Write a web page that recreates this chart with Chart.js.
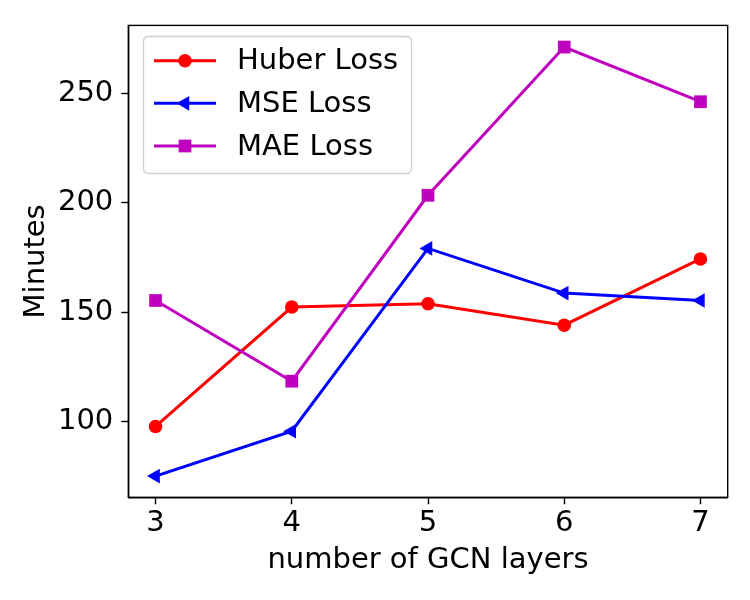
<!DOCTYPE html>
<html>
<head>
<meta charset="utf-8">
<script src="https://cdn.jsdelivr.net/npm/chart.js@4/dist/chart.umd.min.js"></script>
<style>
  html, body { margin: 0; padding: 0; background: #fff; }
  #wrap { width: 750px; height: 600px; }
</style>
</head>
<body>
<div id="wrap"><canvas id="c" width="750" height="600"></canvas></div>
<script>
const layers = [3, 4, 5, 6, 7];
const huberLoss = [97.7, 152.3, 153.8, 144.0, 174.3];
const mseLoss = [75.0, 95.5, 179.1, 158.7, 155.3];
const maeLoss = [155.3, 118.4, 203.4, 271.2, 246.2];
const xTicks = [3, 4, 5, 6, 7];
const yTicks = [100, 150, 200, 250];
const seriesNames = ['Huber Loss', 'MSE Loss', 'MAE Loss'];
const xTitle = 'number of GCN layers';
const yTitle = 'Minutes';

const FONT = '"DejaVu Sans", sans-serif';
const FS = 29;

function pts(vals) { return layers.map((x, i) => ({ x: x, y: vals[i] })); }

const datasets = [
  { label: seriesNames[0], data: pts(huberLoss), borderColor: '#ff0000', backgroundColor: '#ff0000',
    pointStyle: 'circle', pointRadius: 6.8, pointRotation: 0, order: 2 },
  { label: seriesNames[1], data: pts(mseLoss), borderColor: '#0000ff', backgroundColor: '#0000ff',
    pointStyle: 'triangle', pointRadius: 8.5, pointRotation: -90, order: 1 },
  { label: seriesNames[2], data: pts(maeLoss), borderColor: '#bf00bf', backgroundColor: '#bf00bf',
    pointStyle: 'rect', pointRadius: 9, pointRotation: 0, order: 0 }
].map(d => Object.assign(d, { borderWidth: 3, pointBorderWidth: 0, tension: 0, fill: false, clip: false }));

const frame = {
  id: 'frame',
  afterDraw(chart) {
    const ctx = chart.ctx, a = chart.chartArea;
    ctx.save();
    ctx.strokeStyle = '#000';
    ctx.lineWidth = 1.4;
    ctx.strokeRect(a.left, a.top, a.right - a.left, a.bottom - a.top);
    // legend
    const bx = 143.5, by = 36.5, bw = 268, bh = 137, r = 5;
    ctx.beginPath();
    ctx.moveTo(bx + r, by);
    ctx.lineTo(bx + bw - r, by); ctx.quadraticCurveTo(bx + bw, by, bx + bw, by + r);
    ctx.lineTo(bx + bw, by + bh - r); ctx.quadraticCurveTo(bx + bw, by + bh, bx + bw - r, by + bh);
    ctx.lineTo(bx + r, by + bh); ctx.quadraticCurveTo(bx, by + bh, bx, by + bh - r);
    ctx.lineTo(bx, by + r); ctx.quadraticCurveTo(bx, by, bx + r, by);
    ctx.closePath();
    ctx.fillStyle = 'rgba(255,255,255,0.8)';
    ctx.fill();
    ctx.strokeStyle = '#d0d0d0';
    ctx.lineWidth = 1.3;
    ctx.stroke();
    const rows = [60.7, 103.3, 146];
    chart.data.datasets.forEach((ds, i) => {
      const y = rows[i];
      ctx.strokeStyle = ds.borderColor;
      ctx.lineWidth = 3;
      ctx.beginPath(); ctx.moveTo(154, y); ctx.lineTo(216, y); ctx.stroke();
      ctx.fillStyle = ds.backgroundColor;
      Chart.helpers.drawPoint(ctx, { pointStyle: ds.pointStyle, rotation: ds.pointRotation, radius: ds.pointRadius, borderWidth: 0 }, 185, y);
      ctx.fillStyle = '#000';
      ctx.font = FS + 'px ' + FONT;
      ctx.textAlign = 'left';
      ctx.textBaseline = 'middle';
      ctx.fillText(ds.label, 237, y + 1);
    });
    ctx.restore();
  }
};

new Chart(document.getElementById('c'), {
  type: 'line',
  data: { datasets: datasets },
  options: {
    responsive: false,
    animation: false,
    events: [],
    layout: { padding: { top: 22.3, right: 22.3, left: 0, bottom: 0 } },
    plugins: { legend: { display: false }, tooltip: { enabled: false } },
    scales: {
      x: {
        type: 'linear', min: 2.8, max: 7.2,
        afterBuildTicks(s) { s.ticks = xTicks.map(v => ({ value: v })); },
        afterFit(s) { s.height = 102.7; },
        grid: { display: true, drawOnChartArea: false, drawTicks: true, tickLength: 7, tickWidth: 1.4, color: '#000' },
        border: { display: true, color: '#000', width: 1.4 },
        ticks: { color: '#000', font: { family: FONT, size: FS }, padding: 2, maxRotation: 0 },
        title: { display: true, text: xTitle, color: '#000', font: { family: FONT, size: FS }, padding: { top: 0, bottom: 22 } }
      },
      y: {
        type: 'linear', min: 65.3, max: 281.1,
        afterBuildTicks(s) { s.ticks = yTicks.map(v => ({ value: v })); },
        afterFit(s) { s.width = 128.3; },
        grid: { display: true, drawOnChartArea: false, drawTicks: true, tickLength: 7, tickWidth: 1.4, color: '#000' },
        border: { display: true, color: '#000', width: 1.4 },
        ticks: { color: '#000', font: { family: FONT, size: FS }, padding: 8 },
        title: { display: true, text: yTitle, color: '#000', font: { family: FONT, size: FS }, padding: { top: 19, bottom: 0 } }
      }
    }
  },
  plugins: [frame]
});
</script>
</body>
</html>
